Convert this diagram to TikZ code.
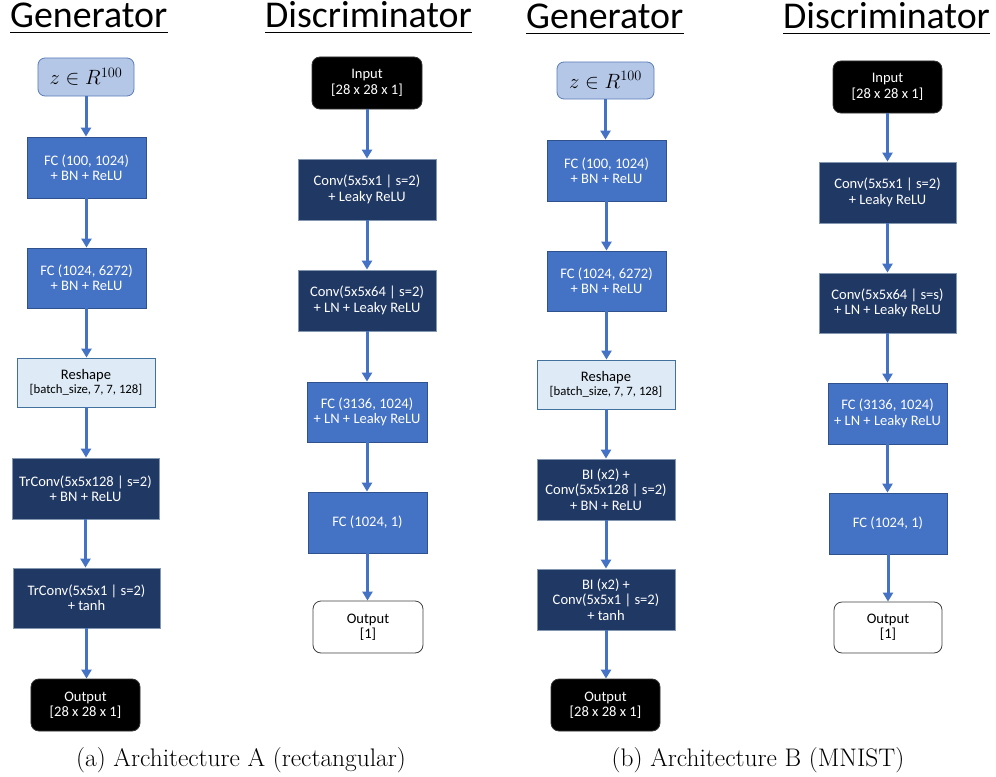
\documentclass[tikz,border=0pt]{standalone}
\usepackage{fontspec}
\newfontfamily\calib{Carlito}
\usetikzlibrary{arrows.meta}
\definecolor{fcblue}{HTML}{4472C4}
\definecolor{fcedge}{HTML}{2F528F}
\definecolor{navy}{HTML}{203864}
\definecolor{navyedge}{HTML}{8497B0}
\definecolor{reshapefill}{HTML}{DEEBF7}
\definecolor{reshapeedge}{HTML}{41719C}
\definecolor{zfill}{HTML}{B4C7E7}
\definecolor{zedge}{HTML}{5B7DB8}
\definecolor{arrowblue}{HTML}{4472C4}
\tikzset{
  box/.style={inner sep=0pt, align=center, line width=0.8bp,
    font=\calib\fontsize{14.6}{15.5}\selectfont},
  fcbox/.style={box, fill=fcblue, draw=fcedge, text=white},
  navybox/.style={box, fill=navy, draw=navyedge, text=white},
  blackbox/.style={box, fill=black, draw=black!80, text=white, rounded corners=8bp},
  outbox/.style={box, fill=white, draw=black!75, text=black, rounded corners=8bp},
  reshapebox/.style={box, fill=reshapefill, draw=reshapeedge, text=black},
  zbox/.style={box, fill=zfill, draw=zedge, text=black, rounded corners=7bp},
  title/.style={inner sep=0pt, anchor=base west, font=\calib\fontsize{38}{41}\selectfont},
  uline/.style={line width=1.8bp},
  conn/.style={draw=arrowblue, line width=3bp, -{Triangle[width=10bp,length=9bp]}},
  caption/.style={inner sep=0pt, font=\fontsize{25.5}{29}\selectfont}
}
\begin{document}
\begin{tikzpicture}[x=1bp, y=-1bp]
\useasboundingbox (0,0) rectangle (996,777);

% titles
\node[title] (tgA) at (10,28) {Generator};
\node[title] (tdA) at (265,28) {Discriminator};
\node[title] (tgB) at (526,29) {Generator};
\node[title] (tdB) at (783,29) {Discriminator};
\foreach \t in {tgA,tdA,tgB,tdB}
  \draw[uline] ([yshift=-4.5bp]\t.base west) -- ([yshift=-4.5bp]\t.base east);

% ---------- Architecture A: generator ----------
\node[zbox, minimum width=96bp, minimum height=38bp] (zA) at (86,77)
  {\fontsize{20.5}{21}\selectfont $z \in R^{100}$};
\node[fcbox, minimum width=119bp, minimum height=61bp] (g1A) at (86.5,167.5)
  {FC (100, 1024)\\+ BN + ReLU};
\node[fcbox, minimum width=119bp, minimum height=60bp] (g2A) at (86.5,278)
  {FC (1024, 6272)\\+ BN + ReLU};
\node[reshapebox, minimum width=138bp, minimum height=49bp] (rA) at (86,382.5)
  {Reshape\\[-1bp]{\fontsize{12.8}{14}\selectfont [batch\_size, 7, 7, 128]}};
\node[navybox, minimum width=147bp, minimum height=61bp] (t1A) at (85.5,488.5)
  {TrConv(5x5x128 | s=2)\\+ BN + ReLU};
\node[navybox, minimum width=147bp, minimum height=60bp] (t2A) at (86.5,598)
  {TrConv(5x5x1 | s=2)\\+ tanh};
\node[blackbox, minimum width=109bp, minimum height=52bp] (oA) at (85.5,705)
  {Output\\{}[28 x 28 x 1]};

% ---------- Architecture A: discriminator ----------
\node[blackbox, minimum width=110bp, minimum height=52bp] (iA) at (367,83)
  {Input\\{}[28 x 28 x 1]};
\node[navybox, minimum width=138bp, minimum height=61bp] (c1A) at (367,189.5)
  {Conv(5x5x1 | s=2)\\+ Leaky ReLU};
\node[navybox, minimum width=138bp, minimum height=61bp] (c2A) at (367,300.5)
  {Conv(5x5x64 | s=2)\\+ LN + Leaky ReLU};
\node[fcbox, minimum width=120bp, minimum height=60bp] (f1A) at (367,412)
  {FC (3136, 1024)\\+ LN + Leaky ReLU};
\node[fcbox, minimum width=119bp, minimum height=61bp] (f2A) at (367.5,522.5)
  {FC (1024, 1)};
\node[outbox, minimum width=110bp, minimum height=52bp] (dA) at (368,627)
  {Output\\{}[1]};

% ---------- Architecture B: generator ----------
\node[zbox, minimum width=97bp, minimum height=37bp] (zB) at (605.5,80.5)
  {\fontsize{20.5}{21}\selectfont $z \in R^{100}$};
\node[fcbox, minimum width=119bp, minimum height=61bp] (g1B) at (606.5,170.5)
  {FC (100, 1024)\\+ BN + ReLU};
\node[fcbox, minimum width=119bp, minimum height=60bp] (g2B) at (606.5,281)
  {FC (1024, 6272)\\+ BN + ReLU};
\node[reshapebox, minimum width=138bp, minimum height=49bp] (rB) at (606,384.5)
  {Reshape\\[-1bp]{\fontsize{12.8}{14}\selectfont [batch\_size, 7, 7, 128]}};
\node[navybox, minimum width=138bp, minimum height=61bp] (b1B) at (606,489.5)
  {BI (x2) +\\Conv(5x5x128 | s=2)\\+ BN + ReLU};
\node[navybox, minimum width=138bp, minimum height=61bp] (b2B) at (606,599.5)
  {BI (x2) +\\Conv(5x5x1 | s=2)\\+ tanh};
\node[blackbox, minimum width=109bp, minimum height=52bp] (oB) at (605.5,705)
  {Output\\{}[28 x 28 x 1]};

% ---------- Architecture B: discriminator ----------
\node[blackbox, minimum width=109bp, minimum height=52bp] (iB) at (887.5,87)
  {Input\\{}[28 x 28 x 1]};
\node[navybox, minimum width=137bp, minimum height=61bp] (c1B) at (887.5,192.5)
  {Conv(5x5x1 | s=2)\\+ Leaky ReLU};
\node[navybox, minimum width=137bp, minimum height=60bp] (c2B) at (887.5,303)
  {Conv(5x5x64 | s=s)\\+ LN + Leaky ReLU};
\node[fcbox, minimum width=119bp, minimum height=61bp] (f1B) at (887.5,413.5)
  {FC (3136, 1024)\\+ LN + Leaky ReLU};
\node[fcbox, minimum width=118bp, minimum height=61bp] (f2B) at (888,523.5)
  {FC (1024, 1)};
\node[outbox, minimum width=108bp, minimum height=51bp] (dB) at (888,627.5)
  {Output\\{}[1]};

% connectors
\foreach \a/\b in {zA/g1A, g1A/g2A, g2A/rA, rA/t1A, t1A/t2A, t2A/oA,
                   iA/c1A, c1A/c2A, c2A/f1A, f1A/f2A, f2A/dA,
                   zB/g1B, g1B/g2B, g2B/rB, rB/b1B, b1B/b2B, b2B/oB,
                   iB/c1B, c1B/c2B, c2B/f1B, f1B/f2B, f2B/dB}
  \draw[conn] (\a.south) -- (\a.south |- \b.north);

% captions
\node[caption] (capA) at (241,760) {(a) Architecture A (rectangular)};
\node[caption] (capB) at (758,760) {(b) Architecture B (MNIST)};
\end{tikzpicture}
\end{document}
